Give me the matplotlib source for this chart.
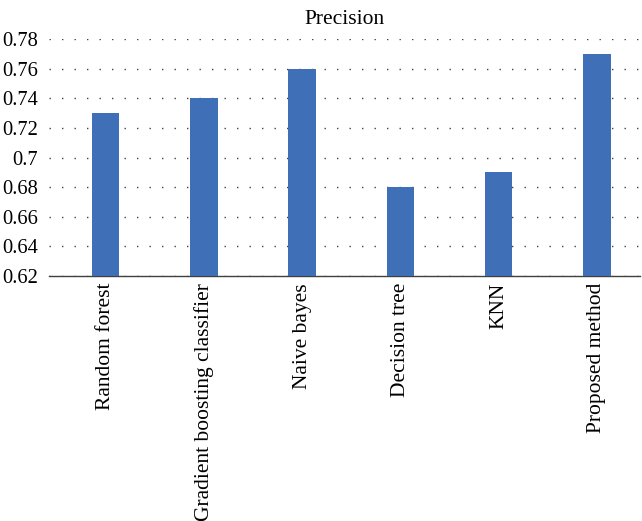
import matplotlib
matplotlib.use("Agg")
import matplotlib.pyplot as plt

# data
methods = ["Random forest", "Gradient boosting classifier", "Naive bayes",
           "Decision tree", "KNN", "Proposed method"]
precision = [0.73, 0.74, 0.76, 0.68, 0.69, 0.77]
yticks = [0.62, 0.64, 0.66, 0.68, 0.7, 0.72, 0.74, 0.76, 0.78]
ytick_labels = ["0.62", "0.64", "0.66", "0.68", "0.7", "0.72", "0.74", "0.76", "0.78"]

plt.rcParams['font.family'] = ['Liberation Serif', 'DejaVu Serif']

fig = plt.figure(figsize=(6.42, 5.21), dpi=100)
ax = fig.add_axes([49 / 642, 1 - 276 / 521, (640 - 49) / 642, (276 - 39) / 521])

x = range(len(methods))
ax.bar(x, precision, width=0.28, color='#3F6FB7', zorder=3)

ax.set_ylim(0.62, 0.78)
ax.set_xlim(-0.575, 5.44)
ax.set_yticks(yticks)
ax.set_yticklabels(ytick_labels, fontsize=14.8)
ax.set_xticks(list(x))
ax.set_xticklabels(methods, rotation=90, fontsize=15.5)
ax.tick_params(axis='y', length=0, pad=8)
ax.tick_params(axis='x', length=0, pad=5)

ax.grid(axis='y', color='#444444', linestyle=(0, (1, 8)), linewidth=1.0, zorder=0)
for s in ['top', 'right', 'left']:
    ax.spines[s].set_visible(False)
ax.spines['bottom'].set_color('#404040')
ax.spines['bottom'].set_linewidth(1.0)

ax.set_title("Precision", fontsize=15.5, pad=11)

fig.savefig("out.png", dpi=100)
